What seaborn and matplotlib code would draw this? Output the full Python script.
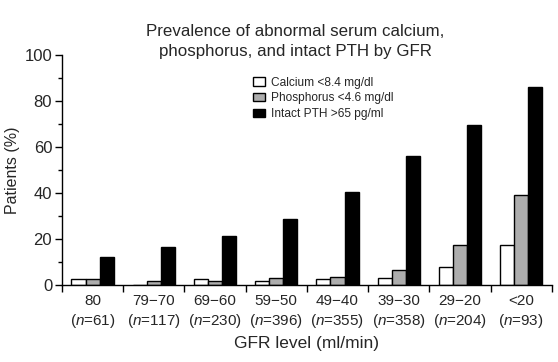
import matplotlib
matplotlib.use("Agg")
import matplotlib.pyplot as plt
import seaborn as sns
import pandas as pd
from matplotlib.ticker import MultipleLocator, FixedLocator
from matplotlib.patches import Patch

gfr_levels = ["80", "79\u221270", "69\u221260", "59\u221250", "49\u221240", "39\u221230", "29\u221220", "<20"]
n_counts = [61, 117, 230, 396, 355, 358, 204, 93]
calcium = [2.2, 0.0, 2.2, 1.4, 2.2, 2.9, 7.6, 17.2]
phosphorus = [2.2, 1.6, 1.4, 3.0, 3.1, 6.3, 17.2, 38.9]
pth = [12.0, 16.4, 21.2, 28.4, 40.4, 56.2, 69.3, 86.0]
series_names = ["Calcium <8.4 mg/dl", "Phosphorus <4.6 mg/dl", "Intact PTH >65 pg/ml"]
series_colors = ["white", "#adadad", "black"]

sns.set_theme(style="white")
plt.rcParams["font.family"] = ["Liberation Sans", "DejaVu Sans"]
plt.rcParams["mathtext.fontset"] = "custom"
plt.rcParams["mathtext.rm"] = "Liberation Sans"
plt.rcParams["mathtext.it"] = "Liberation Sans:italic"

rows = []
for vals, name in zip([calcium, phosphorus, pth], series_names):
    for g, v in zip(gfr_levels, vals):
        rows.append({"GFR": g, "Series": name, "Value": v})
df = pd.DataFrame(rows)

fig = plt.figure(figsize=(5.58, 3.62), dpi=100)
ax = fig.add_axes([0.111, 0.214, 0.878, 0.634])

sns.barplot(data=df, x="GFR", y="Value", hue="Series", order=gfr_levels,
            hue_order=series_names, palette=series_colors, width=0.69, gap=0,
            edgecolor="black", linewidth=1.0, ax=ax, legend=False)

ax.set_xlim(-0.5, len(gfr_levels) - 0.5)
ax.set_ylim(0, 100)
ax.yaxis.set_major_locator(MultipleLocator(20))
ax.yaxis.set_minor_locator(MultipleLocator(10))
ax.tick_params(axis="y", which="major", direction="out", length=5, width=1, left=True, labelsize=12, color="black", pad=2)
ax.tick_params(axis="y", which="minor", direction="out", length=3, width=1, left=True, color="black")

ax.set_xticks(range(len(gfr_levels)))
ax.set_xticklabels([f"{g}\n($\\it{{n}}$={n})" for g, n in zip(gfr_levels, n_counts)], fontsize=11, linespacing=1.25)
ax.tick_params(axis="x", which="major", length=0, pad=7)
ax.xaxis.set_minor_locator(FixedLocator([i + 0.5 for i in range(-1, len(gfr_levels))]))
ax.tick_params(axis="x", which="minor", direction="out", length=5, width=1, bottom=True, color="black")

for s in ["top", "right"]:
    ax.spines[s].set_visible(False)
for s in ["left", "bottom"]:
    ax.spines[s].set_color("black")
    ax.spines[s].set_linewidth(1)

ax.set_ylabel("Patients (%)", fontsize=11.5, labelpad=3)
ax.set_xlabel("GFR level (ml/min)", fontsize=12.5, labelpad=5)
fig.text(0.529, 0.845, "Prevalence of abnormal serum calcium,\nphosphorus, and intact PTH by GFR",
         ha="center", va="baseline", fontsize=12.2, linespacing=1.45, multialignment="center")

handles = [Patch(facecolor=c, edgecolor="black", linewidth=1) for c in series_colors]
ax.legend(handles, series_names, loc="upper left", bbox_to_anchor=(0.39, 0.905), frameon=False,
          fontsize=8.6, handlelength=1.0, handleheight=0.7, handletextpad=0.5, labelspacing=0.3,
          borderaxespad=0, borderpad=0)

fig.savefig("out.png", dpi=100)
